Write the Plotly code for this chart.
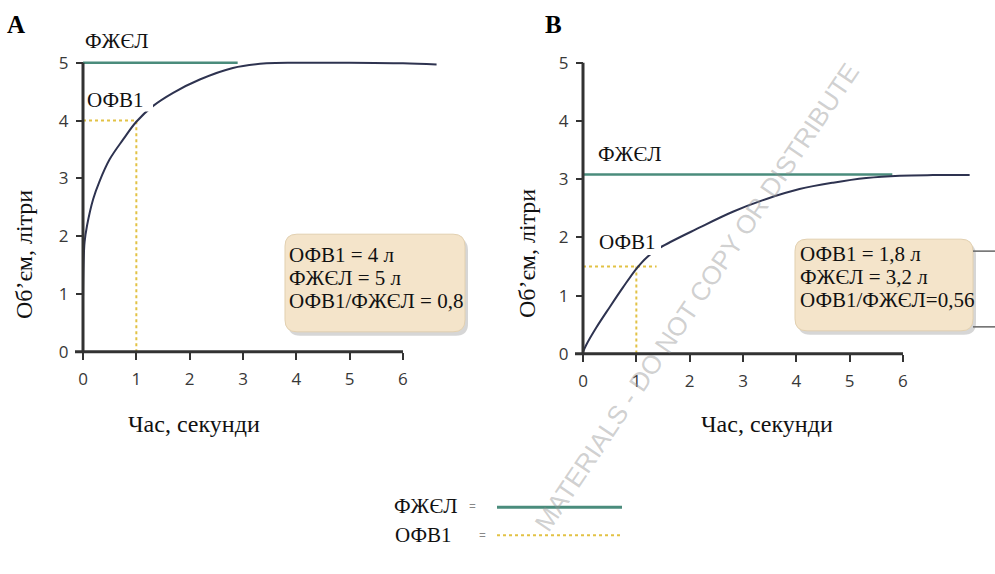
import plotly.graph_objects as go

# ---------------- data ----------------
tick_vals_x = [0, 1, 2, 3, 4, 5, 6]
tick_vals_y = [0, 1, 2, 3, 4, 5]

# Panel A (normal)
curve_a_t = [0.0, 0.01, 0.03, 0.075, 0.19, 0.31, 0.5, 0.75, 1.0, 1.31, 1.69, 2.19, 2.81, 3.44, 4.06, 5.0, 6.0, 6.63]
curve_a_v = [0.9, 1.5, 1.9, 2.18, 2.64, 2.95, 3.33, 3.67, 3.98, 4.25, 4.48, 4.71, 4.91, 4.99, 5.0, 5.0, 4.99, 4.97]
fvc_a_t = [0.0, 2.9]
fvc_a_v = [5.0, 5.0]
fev1_a_t = [0.0, 1.0, 1.0]
fev1_a_v = [4.0, 4.0, 0.0]

# Panel B (obstructive)
curve_b_t = [0.0, 0.06, 0.25, 0.5, 0.75, 1.0, 1.2, 1.44, 2.19, 2.81, 3.44, 4.06, 4.69, 5.31, 5.94, 6.56, 7.25]
curve_b_v = [0.03, 0.15, 0.45, 0.8, 1.14, 1.46, 1.66, 1.82, 2.17, 2.44, 2.66, 2.83, 2.94, 3.02, 3.06, 3.07, 3.07]
fvc_b_t = [0.0, 5.8]
fvc_b_v = [3.08, 3.08]
fev1_b_t = [0.0, 1.38, None, 1.0, 1.0]
fev1_b_v = [1.5, 1.5, None, 1.5, 0.0]

box_a_lines = ["ОФВ1 = 4 л", "ФЖЄЛ = 5 л", "ОФВ1/ФЖЄЛ = 0,8"]
box_b_lines = ["ОФВ1 = 1,8 л", "ФЖЄЛ = 3,2 л", "ОФВ1/ФЖЄЛ=0,56"]

# ---------------- styles ----------------
W, H = 995, 574
CURVE = "#2e3350"
GREEN = "#4a8c7c"
YELLOW = "#e2c245"
AXIS = "#333333"
SERIF = "Liberation Serif, Times New Roman, serif"
SANS = "Open Sans"

def px(x):
    return x / W

def py(y):
    return 1 - y / H

fig = go.Figure()

panels = {
    "A": dict(x0=83, ux=53.33, y0=353, uy=58.0, xr=[-0.2, 7.3], yr=[-0.15, 5.35]),
    "B": dict(x0=583, ux=53.33, y0=355, uy=58.4, xr=[-0.2, 7.6], yr=[-0.15, 5.35]),
}

def axis_layout(p):
    left = p["x0"] + p["xr"][0] * p["ux"]
    right = p["x0"] + p["xr"][1] * p["ux"]
    bottom = p["y0"] - p["yr"][0] * p["uy"]
    top = p["y0"] - p["yr"][1] * p["uy"]
    xax = dict(domain=[px(left), px(right)], range=p["xr"], anchor="free", position=py(p["y0"]),
               showgrid=False, zeroline=False, showline=False, tickvals=tick_vals_x,
               ticks="outside", ticklen=7, tickwidth=2, tickcolor=AXIS, ticklabelstandoff=5,
               tickfont=dict(family=SANS, size=17, color="#383838"), fixedrange=True)
    yax = dict(domain=[py(bottom), py(top)], range=p["yr"], anchor="free", position=px(p["x0"]),
               showgrid=False, zeroline=False, showline=False, tickvals=tick_vals_y,
               ticks="outside", ticklen=7, tickwidth=2, tickcolor=AXIS, ticklabelstandoff=4,
               tickfont=dict(family=SANS, size=17, color="#383838"), fixedrange=True)
    return xax, yax

xa, ya = axis_layout(panels["A"])
xb, yb = axis_layout(panels["B"])

def add_panel(xa_, ya_, ct, cv, ft, fv, et, ev):
    fig.add_trace(go.Scatter(x=et, y=ev, mode="lines", line=dict(color=YELLOW, width=2, dash="dot"),
                             xaxis=xa_, yaxis=ya_, hoverinfo="skip", showlegend=False))
    fig.add_trace(go.Scatter(x=ft, y=fv, mode="lines", line=dict(color=GREEN, width=2.5),
                             xaxis=xa_, yaxis=ya_, hoverinfo="skip", showlegend=False))
    fig.add_trace(go.Scatter(x=ct, y=cv, mode="lines", line=dict(color=CURVE, width=2, shape="spline", smoothing=1.0),
                             xaxis=xa_, yaxis=ya_, hoverinfo="skip", showlegend=False))

add_panel("x", "y", curve_a_t, curve_a_v, fvc_a_t, fvc_a_v, fev1_a_t, fev1_a_v)
add_panel("x2", "y2", curve_b_t, curve_b_v, fvc_b_t, fvc_b_v, fev1_b_t, fev1_b_v)

shapes = []
annotations = []

for xr_, yr_ in (("x", "y"), ("x2", "y2")):
    shapes.append(dict(type="line", xref=xr_, yref=yr_, x0=-0.15, x1=6, y0=0, y1=0,
                       line=dict(color=AXIS, width=3)))
    shapes.append(dict(type="line", xref=xr_, yref=yr_, x0=0, x1=0, y0=0, y1=5,
                       line=dict(color=AXIS, width=3)))

def rrect(x0, y0, x1, y1, r):
    pts = [("M", x0 + r, y0), ("L", x1 - r, y0), ("Q", x1, y0, x1, y0 + r), ("L", x1, y1 - r),
           ("Q", x1, y1, x1 - r, y1), ("L", x0 + r, y1), ("Q", x0, y1, x0, y1 - r), ("L", x0, y0 + r),
           ("Q", x0, y0, x0 + r, y0)]
    s = ""
    for p in pts:
        coords = p[1:]
        parts = [f"{px(coords[i]):.5f},{py(coords[i+1]):.5f}" for i in range(0, len(coords), 2)]
        s += p[0] + " " + " ".join(parts) + " "
    return s + "Z"

def ann(x, y, text, size=21, family=SERIF, color="#111", xanchor="center", angle=0):
    annotations.append(dict(xref="paper", yref="paper", x=px(x), y=py(y), text=text, showarrow=False,
                            xanchor=xanchor, yanchor="middle", textangle=angle,
                            font=dict(family=family, size=size, color=color)))

def white_patch(x0, y0, x1, y1):
    shapes.append(dict(type="rect", xref="paper", yref="paper", x0=px(x0), x1=px(x1), y0=py(y1), y1=py(y0),
                       fillcolor="white", line=dict(width=0), layer="above"))

def info_box(x0, y0, x1, y1, lines, tx, ty):
    shapes.append(dict(type="path", xref="paper", yref="paper", path=rrect(x0 + 3, y0 + 4, x1 + 3, y1 + 4, 12),
                       fillcolor="rgba(120,120,120,0.30)", line=dict(width=0), layer="above"))
    shapes.append(dict(type="path", xref="paper", yref="paper", path=rrect(x0, y0, x1, y1, 12),
                       fillcolor="#f4e4ca", line=dict(color="#e2d0b0", width=1), layer="above"))
    for i, t in enumerate(lines):
        ann(tx, ty[i], t, xanchor="left")

info_box(285, 235, 465, 333, box_a_lines, 287, [256, 279, 302])
info_box(795, 240, 973, 332, box_b_lines, 798, [255, 278, 301])

for yy in (252, 328):
    shapes.append(dict(type="line", xref="paper", yref="paper", x0=px(973), x1=px(995), y0=py(yy), y1=py(yy),
                       line=dict(color="#666", width=1.5)))

# curve labels (white background hides the curve behind them)
white_patch(85, 88, 153, 112)
white_patch(594, 231, 661, 256)
ann(117, 41, "ФЖЄЛ")
ann(85, 100, "ОФВ1", xanchor="left")
ann(630, 155, "ФЖЄЛ")
ann(597, 243, "ОФВ1", xanchor="left")

# panel letters
ann(16, 25, "<b>A</b>", size=25, color="#000")
ann(553, 25, "<b>B</b>", size=25, color="#000")

# axis titles
for (x, y) in ((24, 256), (527, 255)):
    ann(x, y, "Об’єм, літри", size=24, angle=-90)
for (x, y) in ((194, 425), (767, 425)):
    ann(x, y, "Час, секунди", size=24)

# bottom legend
ann(392, 508, "ФЖЄЛ", xanchor="left")
ann(393, 537, "ОФВ1", xanchor="left")
ann(472, 508, "=", size=12, family=SANS, color="#888")
ann(482, 537, "=", size=12, family=SANS, color="#888")
shapes.append(dict(type="line", xref="paper", yref="paper", x0=px(497), x1=px(622), y0=py(509), y1=py(509),
                   line=dict(color=GREEN, width=3)))
shapes.append(dict(type="line", xref="paper", yref="paper", x0=px(497), x1=px(620), y0=py(537), y1=py(537),
                   line=dict(color=YELLOW, width=2, dash="dot")))

# watermark
ann(697, 298, "MATERIALS - DO NOT COPY OR DISTRIBUTE", size=26, family="Liberation Sans",
    color="rgba(150,150,150,0.45)", angle=-56)

fig.update_layout(
    width=W, height=H, margin=dict(l=0, r=0, t=0, b=0),
    paper_bgcolor="white", plot_bgcolor="rgba(0,0,0,0)",
    xaxis=xa, yaxis=ya, xaxis2=xb, yaxis2=yb,
    shapes=shapes, annotations=annotations, showlegend=False,
)

fig.write_html("out.html", config={"displayModeBar": False},
               post_script="document.body.style.margin='0';document.body.style.padding='0';")
